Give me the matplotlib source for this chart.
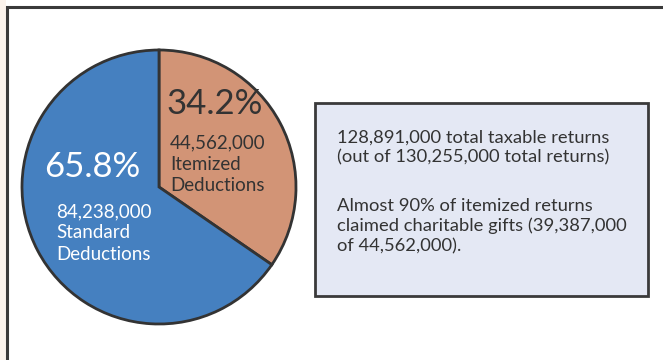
import matplotlib
matplotlib.use("Agg")
import matplotlib.pyplot as plt
from matplotlib.patches import Rectangle

plt.rcParams['font.family'] = ['Lato', 'DejaVu Sans']

categories = ["Itemized\nDeductions", "Standard\nDeductions"]
counts = [44562000, 84238000]
pct_labels = ["34.2%", "65.8%"]
count_labels = ["44,562,000", "84,238,000"]
colors = ["#d29476", "#4580c0"]
box_para1 = ["128,891,000 total taxable returns",
             "(out of 130,255,000 total returns)"]
box_para2 = ["Almost 90% of itemized returns",
             "claimed charitable gifts (39,387,000",
             "of 44,562,000)."]

W, H = 663, 360
fig = plt.figure(figsize=(W / 100, H / 100), dpi=100)
ax = fig.add_axes([0, 0, 1, 1])

def Y(y):
    return H - y

# left beige strip
ax.add_patch(Rectangle((0, 0), 6, H, facecolor="#fbf3ec", edgecolor="none", zorder=0))
# outer frame
ax.add_patch(Rectangle((7, Y(7) - 400), 700, 400, facecolor="white",
                       edgecolor="#3a3a3a", linewidth=2.2, zorder=1))

# pie
ax.pie(counts, colors=colors, startangle=90, counterclock=False,
       center=(159, Y(187)), radius=137, frame=True,
       wedgeprops=dict(edgecolor="#333333", linewidth=2.0, zorder=2))
ax.set_xlim(0, W)
ax.set_ylim(0, H)
ax.set_aspect('equal')
ax.axis('off')

# labels
ax.text(167, Y(104), pct_labels[0], fontsize=25, color="#333333",
        ha="left", va="center", zorder=3)
ax.text(170, Y(164), count_labels[0] + "\n" + categories[0], fontsize=13.5,
        color="#333333", ha="left", va="center", linespacing=1.3, zorder=3)
ax.text(44, Y(167), pct_labels[1], fontsize=25, color="white",
        ha="left", va="center", zorder=3)
ax.text(56, Y(233), count_labels[1] + "\n" + categories[1], fontsize=13.5,
        color="white", ha="left", va="center", linespacing=1.3, zorder=3)

# info box
ax.add_patch(Rectangle((315, Y(296)), 333, 193, facecolor="#e4e8f4",
                       edgecolor="#3a3a3a", linewidth=2.0, zorder=2))
ax.text(337, Y(147.5), "\n".join(box_para1), fontsize=13.2, color="#333333",
        ha="left", va="center", linespacing=1.3, zorder=3)
ax.text(337, Y(226), "\n".join(box_para2), fontsize=13.2, color="#333333",
        ha="left", va="center", linespacing=1.3, zorder=3)

fig.savefig("out.png", dpi=100)
